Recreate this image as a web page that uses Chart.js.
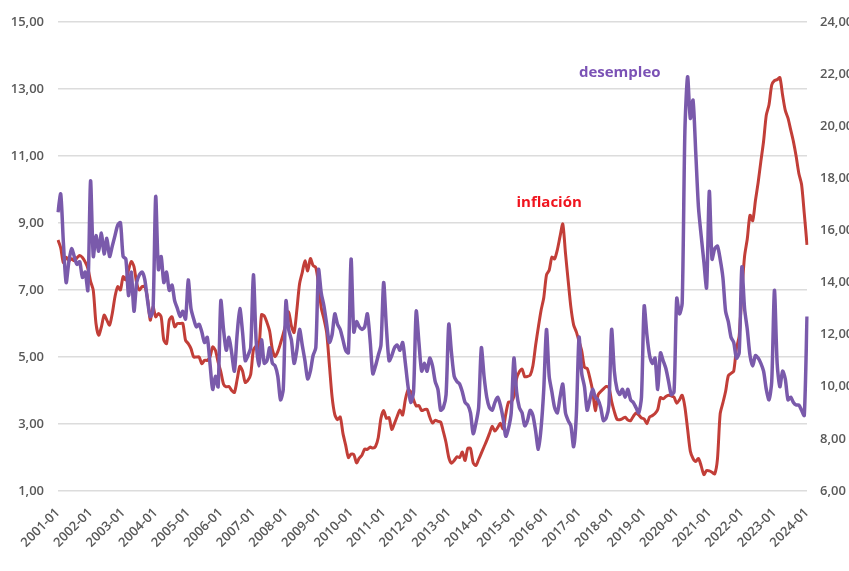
<!DOCTYPE html>
<html>
<head>
<meta charset="utf-8">
<script src="https://cdn.jsdelivr.net/npm/chart.js@4/dist/chart.umd.min.js"></script>
<style>
  html, body { margin: 0; padding: 0; background: #fff; }
  #wrap { width: 849px; height: 571px; position: relative; }
</style>
</head>
<body>
<div id="wrap"><canvas id="grafico"></canvas></div>
<script>
// Inflación vs desempleo, mensual 2001-01 .. 2024-01

const anios = [2001, 2002, 2003, 2004, 2005, 2006, 2007, 2008, 2009, 2010, 2011, 2012,
               2013, 2014, 2015, 2016, 2017, 2018, 2019, 2020, 2021, 2022, 2023, 2024];
const meses = ['01', '02', '03', '04', '05', '06', '07', '08', '09', '10', '11', '12'];

// inflación anual (%), eje izquierdo
const inflacion = [
  8.49, 8.26, 7.81, 7.98, 7.87, 7.93, 7.87, 7.96, 8.03, 7.97, 7.84, 7.65,   // 2001
  7.26, 6.99, 6.00, 5.65, 5.90, 6.25, 6.10, 5.95, 6.30, 6.80, 7.10, 7.00,   // 2002
  7.40, 7.30, 7.60, 7.85, 7.70, 7.20, 7.00, 7.10, 7.10, 6.75, 6.10, 6.50,   // 2003
  6.20, 6.30, 6.20, 5.50, 5.40, 6.10, 6.20, 5.90, 6.00, 6.00, 6.00, 5.50,   // 2004
  5.40, 5.25, 5.00, 5.00, 5.00, 4.80, 4.90, 4.90, 5.00, 5.30, 5.20, 4.85,   // 2005
  4.56, 4.19, 4.11, 4.12, 4.00, 3.94, 4.32, 4.72, 4.58, 4.24, 4.31, 4.48,   // 2006
  5.21, 5.32, 5.26, 6.26, 6.23, 6.03, 5.77, 5.22, 5.01, 5.16, 5.41, 5.69,   // 2007
  6.00, 6.35, 5.93, 5.73, 6.39, 7.18, 7.52, 7.87, 7.57, 7.94, 7.73, 7.67,   // 2008
  7.18, 6.47, 6.14, 5.73, 4.77, 3.81, 3.28, 3.13, 3.21, 2.72, 2.37, 2.00,   // 2009
  2.10, 2.09, 1.84, 1.98, 2.07, 2.25, 2.24, 2.31, 2.28, 2.33, 2.59, 3.17,   // 2010
  3.40, 3.17, 3.19, 2.84, 3.02, 3.23, 3.42, 3.27, 3.73, 4.02, 3.96, 3.73,   // 2011
  3.54, 3.55, 3.40, 3.43, 3.44, 3.20, 3.03, 3.11, 3.08, 3.06, 2.77, 2.44,   // 2012
  2.00, 1.83, 1.91, 2.02, 2.00, 2.16, 1.91, 2.27, 2.27, 1.84, 1.76, 1.94,   // 2013
  2.13, 2.32, 2.51, 2.72, 2.93, 2.79, 2.89, 3.02, 2.86, 3.29, 3.65, 3.66,   // 2014
  3.82, 4.36, 4.56, 4.64, 4.41, 4.42, 4.46, 4.74, 5.35, 5.89, 6.39, 6.77,   // 2015
  7.45, 7.59, 7.98, 7.93, 8.20, 8.60, 8.97, 8.10, 7.27, 6.48, 5.96, 5.75,   // 2016
  5.47, 5.18, 4.69, 4.66, 4.37, 3.99, 3.40, 3.87, 3.97, 4.05, 4.12, 4.09,   // 2017
  3.68, 3.37, 3.14, 3.13, 3.16, 3.20, 3.12, 3.10, 3.23, 3.33, 3.27, 3.18,   // 2018
  3.15, 3.01, 3.21, 3.25, 3.31, 3.43, 3.79, 3.75, 3.82, 3.86, 3.84, 3.80,   // 2019
  3.62, 3.72, 3.86, 3.51, 2.85, 2.19, 1.97, 1.88, 1.97, 1.75, 1.49, 1.61,   // 2020
  1.60, 1.56, 1.51, 1.95, 3.30, 3.63, 3.97, 4.44, 4.51, 4.58, 5.26, 5.62,   // 2021
  6.94, 8.01, 8.53, 9.23, 9.07, 9.67, 10.21, 10.84, 11.44, 12.22, 12.53, 13.12, // 2022
  13.25, 13.28, 13.34, 12.82, 12.36, 12.13, 11.78, 11.43, 10.99, 10.48, 10.15, 9.28, // 2023
  8.35                                                                      // 2024
];

// tasa de desempleo (%), eje derecho
const desempleo = [
  16.7, 17.4, 15.5, 14.0, 14.8, 15.3, 15.0, 14.7, 14.8, 14.2, 14.4, 13.7,   // 2001
  17.9, 15.0, 15.8, 15.2, 15.9, 15.1, 15.7, 15.0, 15.4, 15.8, 16.2, 16.3,   // 2002
  15.0, 14.9, 13.5, 14.4, 12.9, 14.0, 14.3, 14.4, 14.1, 13.3, 12.7, 12.9,   // 2003
  17.3, 14.5, 15.0, 14.0, 14.4, 13.7, 13.9, 13.3, 13.0, 12.7, 12.9, 12.6,   // 2004
  14.1, 13.0, 12.6, 12.3, 12.4, 12.1, 11.7, 11.9, 10.9, 9.9, 10.4, 10.0,    // 2005
  13.3, 12.2, 11.4, 11.9, 11.3, 10.6, 12.0, 13.0, 12.1, 11.0, 11.2, 11.5,   // 2006
  14.3, 11.8, 10.8, 11.8, 10.9, 11.0, 11.5, 10.9, 10.8, 10.4, 9.5, 9.9,     // 2007
  13.3, 12.2, 11.8, 10.9, 11.4, 12.2, 11.6, 11.0, 10.3, 10.6, 11.2, 11.5,   // 2008
  14.5, 13.6, 13.1, 12.4, 11.7, 12.0, 12.8, 12.4, 12.2, 11.8, 11.4, 11.3,   // 2009
  14.9, 12.1, 12.5, 12.3, 12.2, 12.3, 12.8, 11.8, 10.5, 10.8, 11.2, 11.6,   // 2010
  14.0, 12.3, 11.0, 11.2, 11.5, 11.6, 11.4, 11.7, 10.9, 10.0, 9.4, 9.8,     // 2011
  12.9, 11.7, 10.6, 10.9, 10.6, 11.1, 10.8, 10.2, 9.9, 9.1, 9.2, 9.7,       // 2012
  12.4, 11.3, 10.4, 10.2, 10.1, 9.8, 9.4, 9.3, 9.0, 8.2, 8.6, 9.2,          // 2013
  11.5, 10.4, 9.6, 9.2, 9.1, 9.4, 9.6, 9.3, 8.8, 8.1, 8.4, 9.0,             // 2014
  11.1, 9.8, 9.2, 9.0, 8.5, 8.7, 9.1, 8.9, 8.3, 7.6, 8.4, 9.9,              // 2015
  12.2, 10.4, 9.8, 9.2, 9.0, 9.6, 10.1, 9.0, 8.7, 8.5, 7.7, 8.9,            // 2016
  11.9, 10.5, 10.0, 9.1, 9.5, 9.9, 9.6, 9.5, 9.2, 8.7, 8.8, 9.3,            // 2017
  12.2, 10.6, 9.9, 9.7, 9.9, 9.6, 9.9, 9.5, 9.4, 9.2, 9.0, 9.6,             // 2018
  13.1, 12.0, 11.2, 10.9, 11.1, 9.9, 11.3, 11.0, 10.7, 10.2, 9.7, 9.8,      // 2019
  13.4, 12.8, 13.2, 19.8, 21.9, 20.3, 21.0, 19.0, 16.9, 15.8, 14.8, 13.8,   // 2020
  17.5, 14.9, 15.3, 15.4, 14.9, 14.2, 12.9, 12.5, 11.9, 11.7, 11.1, 11.3,   // 2021
  14.6, 13.0, 12.2, 11.2, 10.8, 11.2, 11.1, 10.9, 10.6, 9.9, 9.5, 10.2,     // 2022
  13.7, 10.9, 10.0, 10.6, 10.3, 9.5, 9.6, 9.4, 9.3, 9.3, 9.1, 8.9,          // 2023
  12.7                                                                      // 2024
];

// etiquetas del eje x: AAAA-MM
const etiquetas = [];
anios.forEach(a => meses.forEach(m => {
  if (a < 2024 || m === '01') etiquetas.push(a + '-' + m);
}));

const gris = '#595959';
const fuenteEje = { family: 'Open Sans', size: 13, weight: '600' };

// rótulos de las series, ubicados con las escalas
const rotulos = [
  { texto: 'desempleo', mes: '2018-04', valor: 13.48, color: '#7b52b5' },
  { texto: 'inflación', mes: '2016-02', valor: 9.6, color: '#f0141e' }
];

const pluginRotulos = {
  id: 'rotulos',
  afterDatasetsDraw(chart) {
    const { ctx, scales } = chart;
    ctx.save();
    ctx.font = 'bold 15px "Open Sans"';
    ctx.textAlign = 'center';
    ctx.textBaseline = 'middle';
    rotulos.forEach(r => {
      ctx.fillStyle = r.color;
      ctx.fillText(r.texto, scales.x.getPixelForValue(etiquetas.indexOf(r.mes)), scales.y.getPixelForValue(r.valor));
    });
    ctx.restore();
  }
};

new Chart(document.getElementById('grafico'), {
  type: 'line',
  data: {
    labels: etiquetas,
    datasets: [
      {
        label: 'desempleo',
        data: desempleo,
        yAxisID: 'y2',
        borderColor: '#7a5aab',
        borderWidth: 3.5,
        pointRadius: 0,
        tension: 0.25,
        fill: false
      },
      {
        label: 'inflación',
        data: inflacion,
        yAxisID: 'y',
        borderColor: '#c23e38',
        borderWidth: 3,
        pointRadius: 0,
        tension: 0.25,
        fill: false
      }
    ]
  },
  options: {
    responsive: true, maintainAspectRatio: false, animation: false,
    layout: { padding: { top: 22, left: 0, right: 0, bottom: 0 } },
    plugins: { legend: { display: false }, tooltip: { enabled: false } },
    scales: {
      x: {
        offset: false,
        grid: { display: false, drawTicks: false },
        border: { display: false },
        ticks: {
          autoSkip: false, minRotation: 45, maxRotation: 45, padding: 14,
          color: gris, font: fuenteEje,
          callback: (v, i) => etiquetas[i].endsWith('-01') ? etiquetas[i] : null
        },
        afterFit: s => { s.height = 80; }
      },
      y: {
        position: 'left', min: 1, max: 15,
        grid: { color: '#dcdcdc', lineWidth: 1.5, drawTicks: false },
        border: { display: false },
        ticks: { stepSize: 2, padding: 14, color: gris, font: fuenteEje,
                 callback: v => v.toFixed(2).replace('.', ',') },
        afterFit: s => { s.width = 58; }
      },
      y2: {
        position: 'right', min: 6, max: 24,
        grid: { display: false, drawTicks: false },
        border: { display: false },
        ticks: { stepSize: 2, padding: 13, color: gris, font: fuenteEje,
                 callback: v => v.toFixed(2).replace('.', ',') },
        afterFit: s => { s.width = 42; }
      }
    }
  },
  plugins: [pluginRotulos]
});
</script>
</body>
</html>
